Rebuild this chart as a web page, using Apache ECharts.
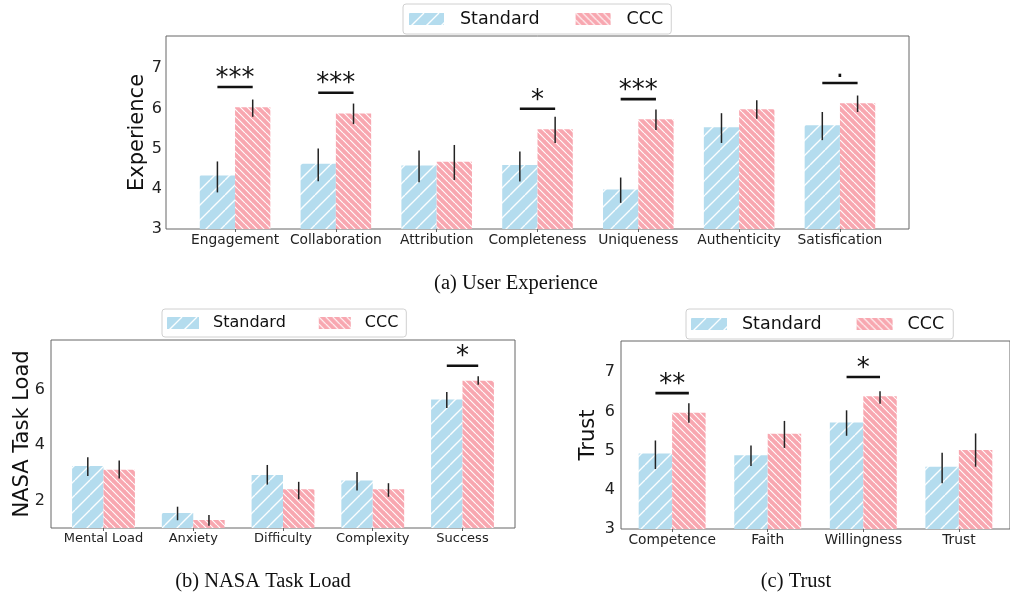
<!DOCTYPE html>
<html><head><meta charset="utf-8">
<script src="https://cdn.jsdelivr.net/npm/echarts@6/dist/echarts.min.js"></script>
<style>html,body{margin:0;padding:0;background:#fff}#c{width:1010px;height:596px}</style>
</head><body><div id="c"></div>
<script>
const seriesNames = ['Standard', 'CCC'];

// (a) User Experience
const uxCategories = ['Engagement','Collaboration','Attribution','Completeness','Uniqueness','Authenticity','Satisfication'];
const uxStandard     = [4.33, 4.62, 4.58, 4.59, 3.98, 5.53, 5.58];
const uxStandardLow  = [3.91, 4.19, 4.16, 4.18, 3.65, 5.14, 5.21];
const uxStandardHigh = [4.68, 5.00, 4.95, 4.93, 4.28, 5.88, 5.91];
const uxCCC          = [6.03, 5.87, 4.67, 5.48, 5.73, 5.98, 6.13];
const uxCCCLow       = [5.79, 5.61, 4.22, 5.14, 5.46, 5.74, 5.91];
const uxCCCHigh      = [6.22, 6.12, 5.09, 5.79, 5.97, 6.20, 6.32];
const uxSigIndex = [0, 1, 3, 4, 6];
const uxSigLevel = [6.53, 6.39, 5.99, 6.23, 6.63];
const uxSigLabel = ['***', '***', '*', '***', '.'];
const uxYTicks = [3, 4, 5, 6, 7];

// (b) NASA Task Load
const nasaCategories = ['Mental Load','Anxiety','Difficulty','Complexity','Success'];
const nasaStandard     = [3.24, 1.54, 2.92, 2.72, 5.65];
const nasaStandardLow  = [2.88, 1.28, 2.57, 2.36, 5.34];
const nasaStandardHigh = [3.56, 1.77, 3.28, 3.03, 5.92];
const nasaCCC          = [3.11, 1.29, 2.40, 2.40, 6.33];
const nasaCCCLow       = [2.79, 1.08, 2.04, 2.13, 6.18];
const nasaCCCHigh      = [3.44, 1.47, 2.67, 2.62, 6.49];
const nasaSigIndex = [4];
const nasaSigLevel = [6.87];
const nasaSigLabel = ['*'];
const nasaYTicks = [2, 4, 6];

// (c) Trust
const trustCategories = ['Competence','Faith','Willingness','Trust'];
const trustStandard     = [4.93, 4.88, 5.72, 4.59];
const trustStandardLow  = [4.53, 4.61, 5.38, 4.17];
const trustStandardHigh = [5.26, 5.13, 6.03, 4.95];
const trustCCC          = [5.97, 5.43, 6.39, 5.02];
const trustCCCLow       = [5.71, 5.07, 6.20, 4.59];
const trustCCCHigh      = [6.21, 5.76, 6.52, 5.44];
const trustSigIndex = [0, 2];
const trustSigLevel = [6.47, 6.88];
const trustSigLabel = ['**', '*'];
const trustYTicks = [3, 4, 5, 6, 7];

const captions = ['(a) User Experience', '(b) NASA Task Load', '(c) Trust'];

function hatch(bg, spacing, dir, lw) {
  const c = document.createElement('canvas');
  c.width = spacing; c.height = spacing;
  const g = c.getContext('2d');
  g.fillStyle = bg; g.fillRect(0, 0, spacing, spacing);
  g.strokeStyle = 'rgba(255,255,255,0.95)'; g.lineWidth = lw;
  g.beginPath();
  for (let k = -1; k <= 1; k++) {
    if (dir > 0) { g.moveTo(k * spacing, spacing); g.lineTo(k * spacing + spacing, 0); }
    else { g.moveTo(k * spacing, 0); g.lineTo(k * spacing + spacing, spacing); }
  }
  g.stroke();
  return { image: c, repeat: 'repeat' };
}
const stdFill = hatch('#b4dcee', 15, 1, 1.4);
const cccFill = hatch('#f8a7b0', 7, -1, 1.2);

const FONT = 'DejaVu Sans';
const AXIS = '#666';
const BW = 0.35; // bar width in category units

const option = {
  animation: false,
  textStyle: { fontFamily: FONT },
  grid: [], xAxis: [], yAxis: [], series: [], legend: [], graphic: []
};

function addPanel(idx, p) {
  const n = p.cats.length;
  const m = 0.05 * (n - 1 + 2 * BW);
  option.grid.push(Object.assign({ show: true, borderColor: AXIS, borderWidth: 1, backgroundColor: 'transparent' }, p.grid));
  const idxs = p.cats.map((_, i) => i);
  option.xAxis.push({
    type: 'value', gridIndex: idx, min: -BW - m, max: n - 1 + BW + m,
    axisLine: { show: false, onZero: false }, splitLine: { show: false },
    axisTick: { show: true, customValues: idxs, length: 3, lineStyle: { color: AXIS } },
    axisLabel: { customValues: idxs, formatter: v => p.cats[Math.round(v)], fontSize: p.xFont, color: '#222', margin: 4, fontFamily: FONT }
  });
  option.yAxis.push({
    type: 'value', gridIndex: idx, min: p.yMin, max: p.yMax,
    axisLine: { show: false, onZero: false }, splitLine: { show: false },
    axisTick: { show: false },
    axisLabel: { customValues: p.yTicks, fontSize: 16, color: '#222', margin: p.yMargin, fontFamily: FONT },
    name: p.yName, nameLocation: 'middle', nameGap: p.nameGap, nameRotate: 90, nameMoveOverlap: false,
    nameTextStyle: { fontSize: 21, color: '#111', fontFamily: FONT }
  });
  const common = { xAxisIndex: idx, yAxisIndex: idx, barWidth: '35%', barGap: '0%', emphasis: { disabled: true }, z: 2 };
  option.series.push(Object.assign({ type: 'bar', name: seriesNames[0], data: p.std.map((v, i) => [i, v]), itemStyle: { color: stdFill } }, common));
  option.series.push(Object.assign({ type: 'bar', name: seriesNames[1], data: p.ccc.map((v, i) => [i, v]), itemStyle: { color: cccFill } }, common));
  const errData = p.std.map((v, i) => [i, p.stdLo[i], p.stdHi[i], -1])
    .concat(p.ccc.map((v, i) => [i, p.cccLo[i], p.cccHi[i], 1]));
  option.series.push({
    type: 'custom', xAxisIndex: idx, yAxisIndex: idx, data: errData, z: 5, silent: true,
    renderItem: (params, api) => {
      const x = api.value(0) + api.value(3) * BW / 2;
      const a = api.coord([x, api.value(1)]), b = api.coord([x, api.value(2)]);
      return { type: 'line', shape: { x1: a[0], y1: a[1], x2: b[0], y2: b[1] }, style: { stroke: '#222', lineWidth: 1.5 } };
    }
  });
  option.series.push({
    type: 'custom', xAxisIndex: idx, yAxisIndex: idx, z: 6, silent: true,
    data: p.sigIdx.map((ix, k) => [ix, p.sigLevel[k]]),
    renderItem: (params, api) => {
      const i = api.value(0), y = api.value(1);
      const a = api.coord([i - BW / 2, y]), b = api.coord([i + BW / 2, y]), c = api.coord([i, y]);
      const lab = p.sigLabel[params.dataIndex];
      const isDot = lab === '.';
      return { type: 'group', children: [
        { type: 'line', shape: { x1: a[0], y1: a[1], x2: b[0], y2: b[1] }, style: { stroke: '#111', lineWidth: 2.6 } },
        { type: 'text', x: c[0], y: c[1] - (isDot ? 13 : 8), style: { text: lab, font: '26px "DejaVu Sans"', fill: '#111', align: 'center', verticalAlign: 'middle' } }
      ] };
    }
  });
  option.legend.push(Object.assign({
    data: seriesNames, orient: 'horizontal', icon: 'rect', itemHeight: 12,
    borderColor: '#d0d0d0', borderWidth: 1, borderRadius: 3, backgroundColor: '#fff',
    selectedMode: false
  }, p.legend));
  option.graphic.push({ type: 'text', x: p.cap[0], y: p.cap[1], style: { text: p.caption, font: '20.5px "Liberation Serif"', fill: '#111', align: 'center', verticalAlign: 'middle' } });
}

addPanel(0, {
  cats: uxCategories, std: uxStandard, stdLo: uxStandardLow, stdHi: uxStandardHigh,
  ccc: uxCCC, cccLo: uxCCCLow, cccHi: uxCCCHigh,
  sigIdx: uxSigIndex, sigLevel: uxSigLevel, sigLabel: uxSigLabel,
  yMin: 3, yMax: 7.8, yTicks: uxYTicks, yName: 'Experience', nameGap: 18, yMargin: 4, xFont: 13.8,
  grid: { left: 166, top: 36, width: 743, height: 193 },
  legend: { left: 403, top: 4, itemWidth: 35, itemGap: 36, padding: [6, 8, 6, 6], textStyle: { fontSize: 17.5, color: '#111', padding: [0, 0, 0, 11] } },
  caption: captions[0], cap: [516, 284]
});
addPanel(1, {
  cats: nasaCategories, std: nasaStandard, stdLo: nasaStandardLow, stdHi: nasaStandardHigh,
  ccc: nasaCCC, cccLo: nasaCCCLow, cccHi: nasaCCCHigh,
  sigIdx: nasaSigIndex, sigLevel: nasaSigLevel, sigLabel: nasaSigLabel,
  yMin: 1, yMax: 7.8, yTicks: nasaYTicks, yName: 'NASA Task Load', nameGap: 18, yMargin: 6, xFont: 13,
  grid: { left: 51, top: 340, width: 464, height: 188 },
  legend: { left: 162, top: 309, itemWidth: 32, itemGap: 33, padding: [6, 8, 6, 5], textStyle: { fontSize: 16, color: '#111', padding: [0, 0, 0, 9] } },
  caption: captions[1], cap: [263, 582]
});
addPanel(2, {
  cats: trustCategories, std: trustStandard, stdLo: trustStandardLow, stdHi: trustStandardHigh,
  ccc: trustCCC, cccLo: trustCCCLow, cccHi: trustCCCHigh,
  sigIdx: trustSigIndex, sigLevel: trustSigLevel, sigLabel: trustSigLabel,
  yMin: 3, yMax: 7.8, yTicks: trustYTicks, yName: 'Trust', nameGap: 22, yMargin: 6, xFont: 13.8,
  grid: { left: 621, top: 341, width: 392, height: 188 },
  legend: { left: 686, top: 309, itemWidth: 36, itemGap: 35, padding: [6, 9, 6, 5], textStyle: { fontSize: 17.5, color: '#111', padding: [0, 0, 0, 10] } },
  caption: captions[2], cap: [796, 582]
});

const chart = echarts.init(document.getElementById('c'), null, { renderer: 'canvas' });
chart.setOption(option);
</script>
</body></html>
